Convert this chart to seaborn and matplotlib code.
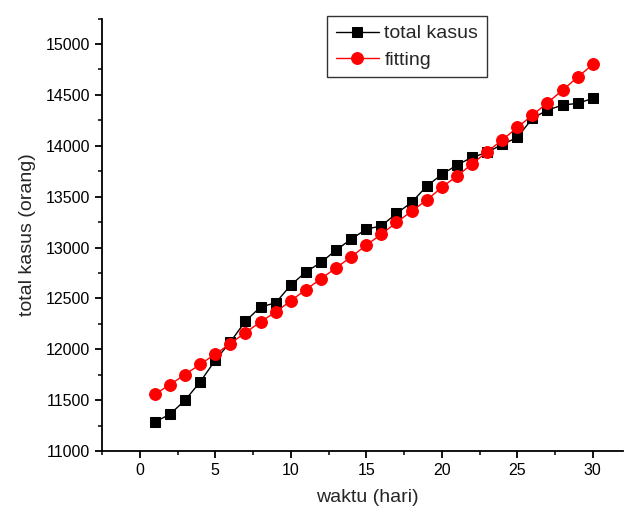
import numpy as np
import pandas as pd
import matplotlib
matplotlib.use("Agg")
import matplotlib.pyplot as plt
import seaborn as sns
from matplotlib.ticker import MultipleLocator

# day index (hari)
days = list(range(1, 31))

# observed cumulative cases
total_kasus = [
    11285, 11361, 11499, 11679, 11892, 12072, 12276, 12416, 12456, 12630,
    12760, 12853, 12975, 13082, 13180, 13213, 13335, 13443, 13603, 13718,
    13810, 13886, 13935, 14013, 14082, 14269, 14351, 14400, 14417, 14466,
]

# fitted curve
fitting = [
    11557, 11653, 11751, 11853, 11951, 12056, 12164, 12269, 12367, 12475,
    12587, 12692, 12800, 12908, 13023, 13131, 13246, 13357, 13466, 13591,
    13702, 13820, 13941, 14056, 14180, 14301, 14423, 14547, 14675, 14800,
]

x_ticks = [0, 5, 10, 15, 20, 25, 30]
y_ticks = [11000, 11500, 12000, 12500, 13000, 13500, 14000, 14500, 15000]

sns.set_style("ticks")
plt.rcParams["font.family"] = ["Liberation Sans", "DejaVu Sans"]

df = pd.DataFrame({"hari": days, "total": total_kasus, "fit": fitting})

fig = plt.figure(figsize=(6.24, 5.12), dpi=100)
ax = fig.add_axes([102 / 624, 1 - 451 / 512, 521 / 624, (451 - 18.6) / 512])

sns.lineplot(data=df, x="hari", y="total", ax=ax, color="black", marker="s",
             markersize=7.5, markeredgecolor="black", linewidth=1,
             label="total kasus")
sns.lineplot(data=df, x="hari", y="fit", ax=ax, color="red", marker="o",
             markersize=8.5, markeredgecolor="red", linewidth=1,
             label="fitting")

ax.set_xlim(-2.5, 32)
ax.set_ylim(11000, 15250)
ax.set_xticks(x_ticks)
ax.set_yticks(y_ticks)
ax.xaxis.set_minor_locator(MultipleLocator(2.5))
ax.yaxis.set_minor_locator(MultipleLocator(250))
ax.tick_params(which="major", direction="out", length=5, width=1.3, labelsize=11.5, colors="black")
ax.tick_params(which="minor", direction="out", length=3, width=1.3)

for s in ["top", "right"]:
    ax.spines[s].set_visible(False)
for s in ["left", "bottom"]:
    ax.spines[s].set_linewidth(1.3)
    ax.spines[s].set_color("black")

ax.set_xlabel("waktu (hari)", fontsize=14)
ax.set_ylabel("total kasus (orang)", fontsize=14, labelpad=7)
ax.xaxis.set_label_coords((367 - 102) / 521, -(489 - 451) / (451 - 18.6))

leg = ax.legend(loc="upper left", bbox_to_anchor=(327 / 624, 1 - 16 / 512),
                bbox_transform=fig.transFigure, borderaxespad=0, fontsize=14,
                frameon=True, fancybox=False, handlelength=2.2,
                handletextpad=0.3, borderpad=0.45, labelspacing=0.45)
leg.get_frame().set_edgecolor("black")
leg.get_frame().set_linewidth(1)

fig.savefig("out.png", dpi=100)
